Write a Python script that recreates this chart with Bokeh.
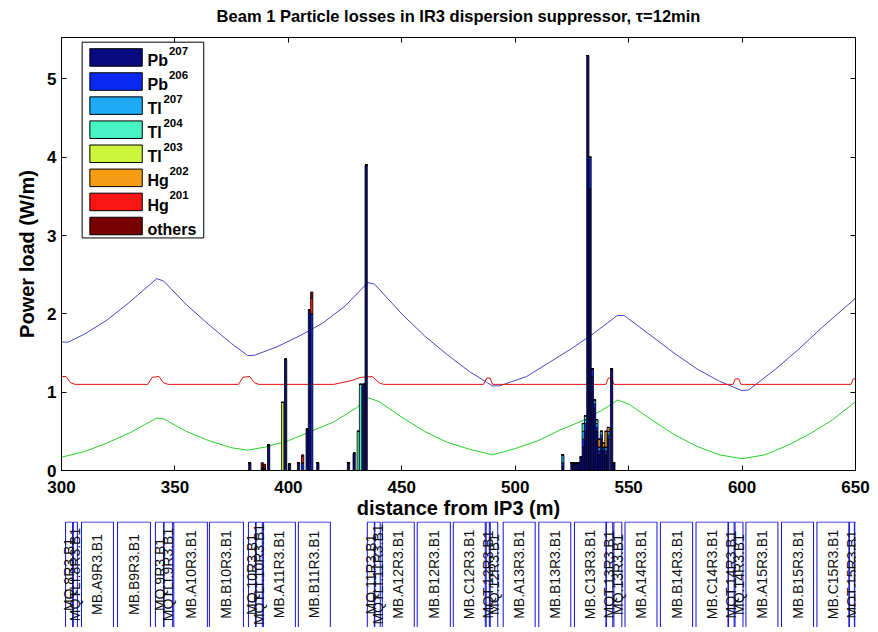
import math
from bokeh.plotting import figure
from bokeh.layouts import column
from bokeh.models import Range1d, LinearAxis, FixedTicker, ColumnDataSource
from bokeh.embed import file_html
from bokeh.resources import INLINE
from bokeh.core.properties import value

FONT = "Liberation Sans"

# ---------------- data ----------------
title_text = "Beam 1 Particle losses in IR3 dispersion suppressor, τ=12min"
species = ["Pb207", "Pb206", "Tl207", "Tl204", "Tl203", "Hg202", "Hg201", "others"]
species_base = ["Pb", "Pb", "Tl", "Tl", "Tl", "Hg", "Hg", "others"]
species_mass = ["207", "206", "207", "204", "203", "202", "201", ""]
species_colors = ["#0a0a80", "#0a28f0", "#1eaaf5", "#46f5c3", "#cdf53c", "#f59b14", "#fa1414", "#780000"]

bar_pos = [383.0, 388.5, 389.5, 391.3, 397.5, 398.8, 400.5, 404.5, 406.3, 408.3, 409.3, 410.3, 413.0,
           426.5, 429.0, 430.8, 431.8, 433.2, 434.3,
           521.0, 525.0, 526.0, 527.0, 528.0, 529.0, 530.0, 531.0, 532.0, 533.0, 534.0, 535.0,
           536.0, 537.0, 538.0, 539.0, 540.0, 541.0, 542.5, 543.5]
Pb207 = [0.10, 0.02, 0.02, 0.33, 0.00, 1.42, 0.08, 0.10, 0.00, 0.53, 2.05, 0.00, 0.10,
         0.10, 0.22, 0.00, 0.00, 1.10, 3.90,
         0.05, 0.10, 0.10, 0.10, 0.10, 0.17, 0.30, 0.50, 5.30, 3.60, 1.20, 0.80,
         0.50, 0.20, 0.40, 0.25, 0.20, 0.40, 1.30, 0.10]
Pb206 = [0.00, 0.00, 0.00, 0.00, 0.00, 0.00, 0.00, 0.00, 0.10, 0.00, 0.00, 2.00, 0.00,
         0.00, 0.00, 0.00, 0.00, 0.00, 0.00,
         0.05, 0.00, 0.00, 0.00, 0.00, 0.00, 0.10, 0.10, 0.00, 0.40, 0.10, 0.05,
         0.05, 0.05, 0.05, 0.05, 0.05, 0.05, 0.00, 0.00]
Tl207 = [0.00, 0.00, 0.00, 0.00, 0.00, 0.00, 0.00, 0.00, 0.00, 0.00, 0.00, 0.00, 0.00,
         0.00, 0.00, 0.00, 0.00, 0.00, 0.00,
         0.10, 0.00, 0.00, 0.00, 0.00, 0.00, 0.10, 0.05, 0.00, 0.00, 0.00, 0.05,
         0.05, 0.05, 0.05, 0.00, 0.05, 0.05, 0.00, 0.00]
Tl204 = [0.00, 0.00, 0.00, 0.00, 0.00, 0.00, 0.00, 0.00, 0.00, 0.00, 0.00, 0.00, 0.00,
         0.00, 0.00, 0.50, 1.10, 0.00, 0.00,
         0.00, 0.00, 0.00, 0.00, 0.00, 0.00, 0.10, 0.05, 0.00, 0.00, 0.00, 0.00,
         0.05, 0.00, 0.00, 0.00, 0.00, 0.00, 0.00, 0.00]
Tl203 = [0.00, 0.00, 0.00, 0.00, 0.87, 0.00, 0.00, 0.00, 0.00, 0.00, 0.00, 0.00, 0.00,
         0.00, 0.00, 0.00, 0.00, 0.00, 0.00,
         0.00, 0.00, 0.00, 0.00, 0.00, 0.00, 0.00, 0.00, 0.00, 0.00, 0.00, 0.00,
         0.00, 0.00, 0.00, 0.00, 0.00, 0.00, 0.00, 0.00]
Hg202 = [0.00, 0.00, 0.00, 0.00, 0.00, 0.00, 0.00, 0.00, 0.00, 0.00, 0.00, 0.00, 0.00,
         0.00, 0.00, 0.00, 0.00, 0.00, 0.00,
         0.00, 0.00, 0.00, 0.00, 0.00, 0.00, 0.00, 0.00, 0.00, 0.00, 0.00, 0.00,
         0.00, 0.10, 0.00, 0.05, 0.20, 0.05, 0.00, 0.00]
Hg201 = [0.00, 0.00, 0.00, 0.00, 0.00, 0.00, 0.00, 0.00, 0.08, 0.00, 0.00, 0.20, 0.00,
         0.00, 0.00, 0.00, 0.00, 0.00, 0.00,
         0.00, 0.00, 0.00, 0.00, 0.00, 0.00, 0.00, 0.00, 0.00, 0.00, 0.00, 0.00,
         0.00, 0.00, 0.00, 0.00, 0.00, 0.00, 0.00, 0.00]
others = [0.00, 0.08, 0.06, 0.00, 0.00, 0.00, 0.00, 0.00, 0.02, 0.00, 0.00, 0.08, 0.00,
          0.00, 0.00, 0.00, 0.00, 0.00, 0.00,
          0.00, 0.00, 0.00, 0.00, 0.00, 0.00, 0.00, 0.00, 0.00, 0.00, 0.00, 0.00,
          0.00, 0.00, 0.00, 0.00, 0.00, 0.00, 0.00, 0.00]

# blue curve
blue_s = [300, 303, 310, 320, 330, 342, 345, 355, 365, 375, 382, 385, 395, 405, 415, 425, 435, 438,
          450, 460, 470, 480, 490, 493, 505, 515, 525, 535, 545, 548, 560, 570, 580, 590, 600,
          603, 615, 625, 635, 650]
blue_v = [1.64, 1.64, 1.74, 1.92, 2.15, 2.45, 2.42, 2.12, 1.86, 1.62, 1.47, 1.47, 1.58, 1.72, 1.88,
          2.10, 2.40, 2.38, 2.00, 1.72, 1.48, 1.26, 1.08, 1.08, 1.20, 1.38, 1.56, 1.76, 1.98,
          1.98, 1.72, 1.50, 1.30, 1.14, 1.02, 1.03, 1.30, 1.55, 1.82, 2.20]
# red curve
red_s = [300, 302, 304, 306, 338, 340, 343, 345, 347, 378, 380, 383, 385, 387, 420, 428, 432,
         437, 440, 442, 486, 487.5, 489, 490, 540, 541, 542.5, 543.5, 596, 597, 598.5, 599.5,
         648, 649, 650]
red_v = [1.20, 1.20, 1.12, 1.10, 1.10, 1.19, 1.20, 1.12, 1.10, 1.10, 1.19, 1.20, 1.12, 1.10,
         1.10, 1.15, 1.19, 1.20, 1.12, 1.10, 1.10, 1.18, 1.18, 1.10, 1.10, 1.18, 1.18, 1.10,
         1.10, 1.17, 1.17, 1.10, 1.10, 1.17, 1.17]
# green curve
green_s = [300, 310, 320, 330, 342, 345, 355, 365, 375, 382, 390, 400, 410, 420, 430, 435, 440,
           450, 460, 470, 480, 490, 500, 510, 520, 530, 540, 545, 550, 560, 570, 580, 590, 600,
           610, 620, 630, 640, 650]
green_v = [0.17, 0.24, 0.35, 0.48, 0.67, 0.66, 0.50, 0.38, 0.29, 0.26, 0.30, 0.38, 0.50, 0.62,
           0.80, 0.93, 0.88, 0.68, 0.50, 0.36, 0.27, 0.20, 0.28, 0.38, 0.52, 0.64, 0.80, 0.90,
           0.85, 0.65, 0.46, 0.31, 0.20, 0.15, 0.20, 0.32, 0.47, 0.65, 0.88]

# magnets (lattice layout below the plot)
mag_names = ["MQ.8R3.B1", "MQTLI.8R3.B1", "MB.A9R3.B1", "MB.B9R3.B1", "MQ.9R3.B1", "MQTLI.9R3.B1",
             "MB.A10R3.B1", "MB.B10R3.B1", "MQ.10R3.B1", "MQTLI.10R3.B1", "MB.A11R3.B1", "MB.B11R3.B1",
             "MQ.11R3.B1", "MQTLI.11R3.B1", "MB.A12R3.B1", "MB.B12R3.B1", "MB.C12R3.B1",
             "MQT.12R3.B1", "MQ.12R3.B1", "MB.A13R3.B1", "MB.B13R3.B1", "MB.C13R3.B1",
             "MQT.13R3.B1", "MQ.13R3.B1", "MB.A14R3.B1", "MB.B14R3.B1", "MB.C14R3.B1",
             "MQT.14R3.B1", "MQ.14R3.B1", "MB.A15R3.B1", "MB.B15R3.B1", "MB.C15R3.B1",
             "MQT.15R3.B1", "MQ.15R3.B1"]
mag_start = [301.8, 305.2, 308.8, 324.7, 341.4, 345.2, 349.5, 365.2, 382.4, 385.8, 389.0, 404.4,
             434.8, 438.1, 441.4, 456.8, 472.7, 487.2, 489.0, 494.7, 510.4, 526.1,
             540.0, 543.5, 548.4, 564.0, 579.7, 594.0, 596.9, 601.7, 617.4, 633.0, 647.3, 649.8]
mag_end = [304.9, 307.0, 322.9, 339.2, 345.0, 349.0, 364.3, 380.2, 385.5, 388.5, 403.1, 418.5,
           437.9, 440.5, 455.5, 471.4, 486.8, 488.6, 492.3, 508.8, 524.5, 540.2,
           543.0, 547.0, 562.5, 578.2, 593.8, 596.5, 600.4, 615.8, 631.5, 647.1, 649.5, 653.0]

x_ticks = [300, 350, 400, 450, 500, 550, 600, 650]
y_ticks = [0, 1, 2, 3, 4, 5]

X0, X1, Y0, Y1 = 300, 650, 0, 5.53
shared_x = Range1d(X0, X1)

# ---------------- title strip ----------------
pt = figure(width=870, height=30, x_range=shared_x, y_range=Range1d(0, 1),
            output_backend="svg", toolbar_location=None,
            min_border_left=61, min_border_right=15, min_border_top=0, min_border_bottom=0)
pt.axis.visible = False
pt.xgrid.visible = False
pt.ygrid.visible = False
pt.outline_line_color = None
pt.text(x=[(X0 + X1) / 2], y=[0.5], text=[title_text], text_font=value(FONT),
        text_font_size="16.5px", text_font_style="bold", text_color="black",
        text_align="center", text_baseline="middle")

# ---------------- main plot ----------------
p = figure(width=870, height=491, x_range=shared_x, y_range=Range1d(Y0, Y1),
           output_backend="svg", toolbar_location=None,
           min_border_left=61, min_border_right=15, min_border_top=7, min_border_bottom=47)
p.xgrid.visible = False
p.ygrid.visible = False
p.outline_line_color = "black"
p.outline_line_width = 1

for ax, ticks in ((p.xaxis[0], x_ticks), (p.yaxis[0], y_ticks)):
    ax.ticker = FixedTicker(ticks=ticks)
    ax.major_tick_in = 5
    ax.major_tick_out = 0
    ax.minor_tick_line_color = None
    ax.axis_line_color = "black"
    ax.major_tick_line_color = "black"
    ax.major_label_text_font = FONT
    ax.major_label_text_font_size = "17px"
    ax.major_label_text_font_style = "bold"
    ax.major_label_text_color = "black"
    ax.axis_label_text_font = FONT
    ax.axis_label_text_font_style = "bold"
    ax.axis_label_text_color = "black"
    ax.axis_label_text_font_size = "20px"
    ax.major_label_standoff = 5
p.xaxis[0].axis_label = "distance from IP3 (m)"
p.xaxis[0].major_label_standoff = 10
p.xaxis[0].axis_label_standoff = 1
p.yaxis[0].axis_label = "Power load (W/m)"
p.yaxis[0].axis_label_standoff = 6

for side, ticks in (("above", x_ticks), ("right", y_ticks)):
    ax = LinearAxis(ticker=FixedTicker(ticks=ticks), major_tick_in=5, major_tick_out=0,
                    minor_tick_line_color=None, major_label_overrides={t: "" for t in ticks},
                    major_label_standoff=0, axis_line_color="black")
    p.add_layout(ax, side)

p.line(blue_s, blue_v, line_color="#4646c8", line_width=1)
p.line(red_s, red_v, line_color="#e01010", line_width=1)
p.line(green_s, green_v, line_color="#28d028", line_width=1)

src = ColumnDataSource(dict(pos=bar_pos, Pb207=Pb207, Pb206=Pb206, Tl207=Tl207, Tl204=Tl204,
                            Tl203=Tl203, Hg202=Hg202, Hg201=Hg201, others=others))
p.vbar_stack(species, x="pos", width=1.0, color=species_colors, line_color="black",
             line_width=0.8, source=src)

# legend box drawn inside the axes (MATLAB style, with superscript mass numbers)
LEG_L, LEG_R, LEG_T, LEG_B = 309.1, 362.7, 5.47, 2.97
SW_L, SW_R, SW_H = 312.5, 335.6, 0.112
TXT_X = 337.9
row0, row_step = 5.275, 0.3075
rows = [row0 - i * row_step for i in range(len(species))]
p.quad(left=[LEG_L], right=[LEG_R], top=[LEG_T], bottom=[LEG_B], fill_color="white",
       line_color="black", line_width=1)
p.quad(left=SW_L, right=SW_R, top=[r + SW_H for r in rows], bottom=[r - SW_H for r in rows],
       fill_color=species_colors, line_color="black", line_width=1)
p.text(x=TXT_X, y=[r - 0.04 for r in rows], text=species_base, text_font=value(FONT),
       text_font_size="16px", text_font_style="bold", text_color="black",
       text_baseline="middle", text_align="left")
base_w = {"Pb": 21.5, "Tl": 16.0, "Hg": 22.0, "others": 50.0}
p.text(x=TXT_X, y=[r + 0.085 for r in rows], text=species_mass,
       x_offset=[base_w[b] for b in species_base], text_font=value(FONT),
       text_font_size="11.5px", text_font_style="bold", text_color="black",
       text_baseline="middle", text_align="left")

# ---------------- lattice panel ----------------
pb = figure(width=870, height=106, x_range=shared_x, y_range=Range1d(0, 1),
            output_backend="svg", toolbar_location=None,
            min_border_left=61, min_border_right=15, min_border_top=0, min_border_bottom=0)
pb.axis.visible = False
pb.xgrid.visible = False
pb.ygrid.visible = False
pb.outline_line_color = None
mag_center = [(a + b) / 2 for a, b in zip(mag_start, mag_end)]
pb.quad(left=mag_start, right=mag_end, top=0.995, bottom=-0.5, fill_color=None,
        line_color="#1010e0", line_width=1)
pb.text(x=mag_center, y=0.5, text=mag_names, angle=math.pi / 2, text_align="center",
        text_baseline="middle", text_font=value(FONT), text_font_size="14px",
        text_color="#101010")

layout = column(pt, p, pb, spacing=0)
open("out.html", "w").write(file_html(layout, INLINE))
